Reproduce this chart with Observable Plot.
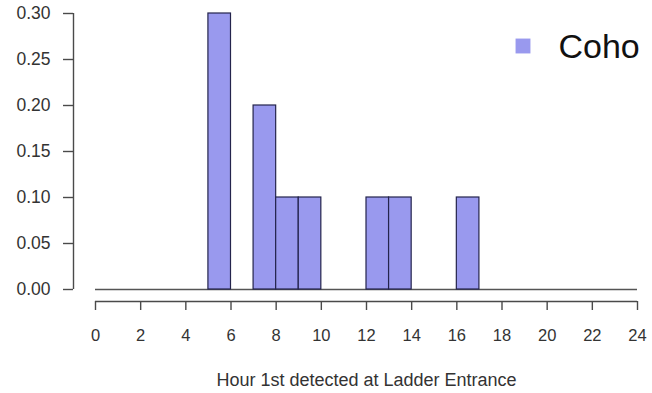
<!DOCTYPE html>
<html>
<head>
<meta charset="utf-8">
<script src="https://cdn.jsdelivr.net/npm/d3@7"></script>
<script src="https://cdn.jsdelivr.net/npm/@observablehq/plot@0.6"></script>
<style>
  body { margin: 0; background: #fff; }
  #chart svg { font-family: "Liberation Sans", Arial, sans-serif; }
</style>
</head>
<body>
<div id="chart"></div>
<script>
// Hourly histogram of first detections (proportion per 1-hour bin)
const binStarts = [5, 7, 8, 9, 12, 13, 16];
const proportions = [0.30, 0.20, 0.10, 0.10, 0.10, 0.10, 0.10];
const binWidth = 1;
const xTicks = [0, 2, 4, 6, 8, 10, 12, 14, 16, 18, 20, 22, 24];
const yTicks = [0.00, 0.05, 0.10, 0.15, 0.20, 0.25, 0.30];
const seriesName = "Coho";
const xTitle = "Hour 1st detected at Ladder Entrance";

const bins = binStarts.map((s, i) => ({x1: s, x2: s + binWidth, y: proportions[i]}));

const barFill = "#9999ee";
const barStroke = "#24244c";
const axisColor = "#4a4a4a";
const labelColor = "#333";
const fmtY = d3.format(".2f");

const chart = Plot.plot({
  width: 652,
  height: 393,
  marginLeft: 95,
  marginRight: 15,
  marginTop: 13,
  marginBottom: 104,
  x: {domain: [0, 24]},
  y: {domain: [0, 0.30]},
  style: {fontFamily: '"Liberation Sans", Arial, sans-serif', background: "#fff"},
  marks: [
    // zero-height bins form the baseline
    Plot.ruleY([0], {x1: 0, x2: 24, stroke: "#555", strokeWidth: 1.4}),
    Plot.rectY(bins, {x1: "x1", x2: "x2", y: "y", fill: barFill, stroke: barStroke, strokeWidth: 1.2}),
    // detached y axis: line, ticks, labels
    Plot.ruleX([0], {y1: 0, y2: 0.30, dx: -22, stroke: axisColor, strokeWidth: 1.4}),
    Plot.axisY({ticks: yTicks, tickSize: 10, dx: -22, tickFormat: () => "", label: null, stroke: axisColor, strokeWidth: 1.4}),
    Plot.text(yTicks, {y: d => d, text: d => fmtY(d), frameAnchor: "left", textAnchor: "end", dx: -45, fontSize: 17.5, fill: labelColor}),
    // detached x axis: line, ticks, labels
    Plot.ruleY([0], {x1: 0, x2: 24, dy: 12, stroke: axisColor, strokeWidth: 1.4}),
    Plot.axisX({ticks: xTicks, tickSize: 9, dy: 12, tickFormat: () => "", label: null, stroke: axisColor, strokeWidth: 1.4}),
    Plot.text(xTicks, {x: d => d, text: d => String(d), frameAnchor: "bottom", textAnchor: "middle", lineAnchor: "bottom", dy: 51, fontSize: 16.5, fill: labelColor}),
    Plot.text([xTitle], {frameAnchor: "bottom", textAnchor: "middle", lineAnchor: "bottom", dy: 96, fontSize: 18, fill: labelColor}),
    // legend
    Plot.dot([seriesName], {frameAnchor: "top-right", symbol: "square", r: 8.4, dx: -114.5, dy: 32.5, fill: barFill, stroke: "none"}),
    Plot.text([seriesName], {frameAnchor: "top-right", textAnchor: "start", lineAnchor: "bottom", dx: -79, dy: 44, fontSize: 34, fill: "#111"})
  ]
});

document.getElementById("chart").appendChild(chart);
</script>
</body>
</html>
